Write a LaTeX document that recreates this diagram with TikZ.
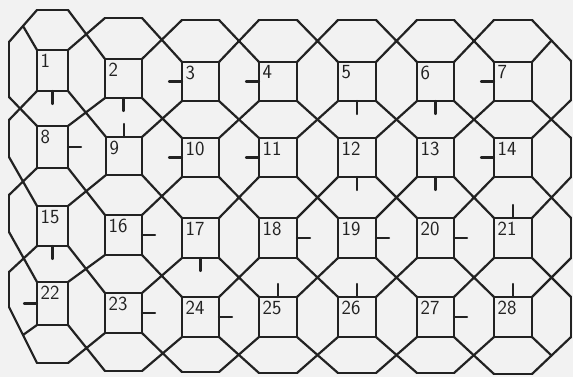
\documentclass[tikz,border=0pt]{standalone}
\usepackage{fontspec}
\definecolor{ink}{RGB}{34,34,34}
\begin{document}
\begin{tikzpicture}[x=1pt,y=-1pt,color=ink,line width=2.2pt,line cap=round,line join=round,
  cell/.style={draw,anchor=north west,inner sep=0pt,outer sep=0pt,minimum width=38pt,minimum height=39pt},
  ghost/.style={inner sep=0pt,outer sep=0pt,minimum width=0pt,minimum height=0pt},
  num/.style={anchor=north west,inner sep=2.5pt,font=\sffamily\fontsize{20}{20}\selectfont},
  lab/.style={label={[num]north west:#1}},
  tick/.style={line width=2.2pt,draw=ink},
  tickN/.style={append after command={(\tikzlastnode.north) edge[tick] +(0,-13)}},
  tickS/.style={append after command={(\tikzlastnode.south) edge[tick] +(0,13)}},
  tickE/.style={append after command={(\tikzlastnode.east) edge[tick] +(13,0)}},
  tickW/.style={append after command={(\tikzlastnode.west) edge[tick] +(-13,0)}}]
\path[use as bounding box,fill=black!5] (0,0) rectangle (573,377);
% squares
\node[cell,minimum width=31pt,minimum height=41pt,lab=1,tickS] (r1-1) at (37,50) {};
\node[cell,minimum width=37pt,lab=2,tickS] (r1-2) at (105,59) {};
\node[cell,minimum width=37pt,lab=3,tickW] (r1-3) at (182,62) {};
\node[cell,lab=4,tickW] (r1-4) at (259,62) {};
\node[cell,lab=5,tickS] (r1-5) at (338,62) {};
\node[cell,minimum width=37pt,lab=6,tickS] (r1-6) at (417,62) {};
\node[cell,lab=7,tickW] (r1-7) at (494,62) {};
\node[cell,minimum width=31pt,minimum height=42pt,lab=8,tickE] (r2-1) at (37,126) {};
\node[cell,minimum width=36pt,minimum height=38pt,lab=9,tickN] (r2-2) at (106,137) {};
\node[cell,minimum width=37pt,lab=10,tickW] (r2-3) at (182,138) {};
\node[cell,lab=11,tickW] (r2-4) at (259,138) {};
\node[cell,lab=12,tickS] (r2-5) at (338,138) {};
\node[cell,minimum width=37pt,lab=13,tickS] (r2-6) at (417,138) {};
\node[cell,lab=14,tickW] (r2-7) at (494,138) {};
\node[cell,minimum width=31pt,minimum height=40pt,lab=15,tickS] (r3-1) at (37,206) {};
\node[cell,minimum width=37pt,minimum height=40pt,lab=16,tickE] (r3-2) at (105,215) {};
\node[cell,minimum width=37pt,minimum height=40pt,lab=17,tickS] (r3-3) at (182,218) {};
\node[cell,minimum height=40pt,lab=18,tickE] (r3-4) at (259,218) {};
\node[cell,minimum height=40pt,lab=19,tickE] (r3-5) at (338,218) {};
\node[cell,minimum width=37pt,minimum height=40pt,lab=20,tickE] (r3-6) at (417,218) {};
\node[cell,minimum height=40pt,lab=21,tickN] (r3-7) at (494,218) {};
\node[cell,minimum width=31pt,minimum height=43pt,lab=22,tickW] (r4-1) at (37,282) {};
\node[cell,minimum width=37pt,minimum height=40pt,lab=23,tickE] (r4-2) at (105,293) {};
\node[cell,minimum width=37pt,minimum height=40pt,lab=24,tickE] (r4-3) at (182,297) {};
\node[cell,minimum height=40pt,lab=25,tickN] (r4-4) at (259,297) {};
\node[cell,minimum height=40pt,lab=26,tickN] (r4-5) at (338,297) {};
\node[cell,minimum width=37pt,minimum height=40pt,lab=27,tickE] (r4-6) at (417,297) {};
\node[cell,minimum height=40pt,lab=28,tickN] (r4-7) at (494,297) {};
% border cells, only one side of each is drawn
\foreach \cl/\x/\w/\y in {1/37/31/10,2/105/37/18,3/182/37/20,4/259/38/20,5/338/38/20,6/417/37/20,7/494/38/20}
  \node[ghost,anchor=south west,minimum width=\w pt,minimum height=20pt] (r0-\cl) at (\x,\y) {};
\foreach \cl/\x/\w/\y in {1/37/31/363,2/105/37/371,3/182/37/372,4/259/38/373,5/338/38/373,6/417/37/373,7/494/38/374}
  \node[ghost,anchor=north west,minimum width=\w pt,minimum height=20pt] (r5-\cl) at (\x,\y) {};
\foreach \rw/\y/\h in {1/42/55,2/120/37,3/195/37,4/272/35}
  \node[ghost,anchor=north east,minimum width=9pt,minimum height=\h pt] (r\rw-0) at (9,\y) {};
\foreach \rw/\y/\h in {1/61/39,2/138/39,3/218/40,4/297/40}
  \node[ghost,anchor=north west,minimum width=2pt,minimum height=\h pt] (r\rw-8) at (571,\y) {};
\node[ghost] (r0-0) at (23,26) {};
\node[ghost] (r0-8) at (551.5,40.5) {};
\node[ghost] (r5-0) at (23,335) {};
\node[ghost] (r5-8) at (551.5,355.5) {};
\foreach \cl in {1,...,7}
  \draw (r0-\cl.south west) -- (r0-\cl.south east) (r5-\cl.north west) -- (r5-\cl.north east);
\foreach \rw in {1,...,4}
  \draw (r\rw-0.north east) -- (r\rw-0.south east) (r\rw-8.north west) -- (r\rw-8.south west);
% crossings between the squares
\foreach \rw/\rn in {0/1,1/2,2/3,3/4,4/5}
  \foreach \cl/\cn in {0/1,1/2,2/3,3/4,4/5,5/6,6/7,7/8}
    \draw (r\rw-\cl.south east) -- (r\rn-\cn.north west) (r\rw-\cn.south west) -- (r\rn-\cl.north east);
\end{tikzpicture}
\end{document}
